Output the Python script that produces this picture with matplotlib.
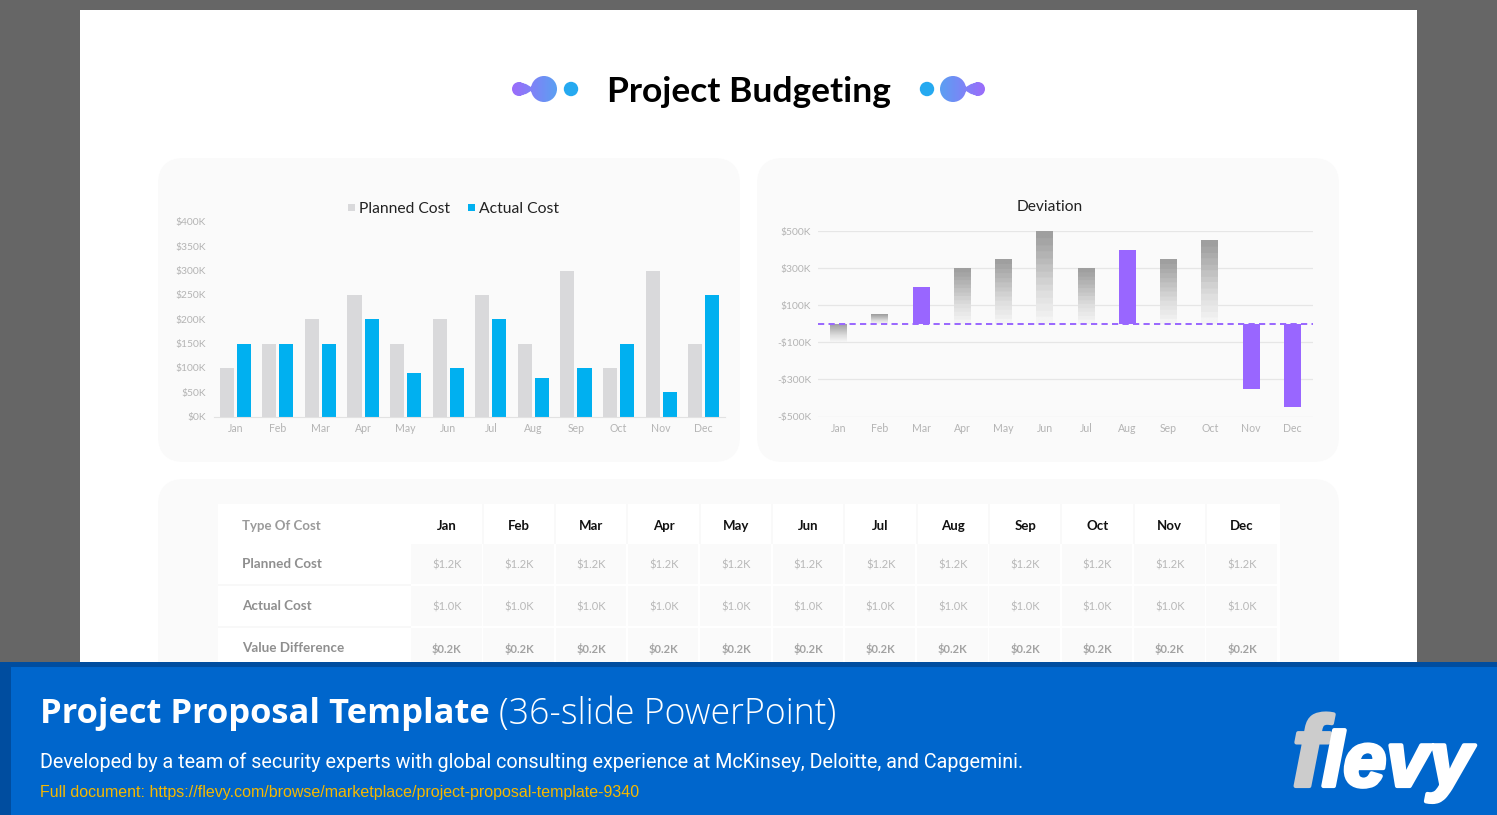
import matplotlib
matplotlib.use("Agg")
import matplotlib.pyplot as plt
import numpy as np
from matplotlib.patches import Rectangle, FancyBboxPatch, Circle
from matplotlib.path import Path
from matplotlib.colors import LinearSegmentedColormap
from matplotlib.ticker import FuncFormatter
import matplotlib.patheffects as pe

months = ["Jan", "Feb", "Mar", "Apr", "May", "Jun", "Jul", "Aug", "Sep", "Oct", "Nov", "Dec"]
planned_cost = [100, 150, 200, 250, 150, 200, 250, 150, 300, 100, 300, 150]
actual_cost = [150, 150, 150, 200, 90, 100, 200, 80, 100, 150, 50, 250]
deviation = [-100, 50, 200, 300, 350, 500, 300, 400, 350, 450, -350, -450]
highlighted = ["Mar", "Aug", "Nov", "Dec"]
budget_ticks = [0, 50, 100, 150, 200, 250, 300, 350, 400]
deviation_ticks = [-500, -300, -100, 100, 300, 500]
row_labels = ["Planned Cost", "Actual Cost", "Value Difference"]
row_values = ["$1.2K", "$1.0K", "$0.2K"]

W, H = 1497, 815
FONT = "Lato"
fig = plt.figure(figsize=(W / 100, H / 100), dpi=100, facecolor="#666666")
bg = fig.add_axes([0, 0, 1, 1])
bg.set_xlim(0, W)
bg.set_ylim(H, 0)
bg.axis("off")


def axes_px(x0, y0, x1, y1):
    return fig.add_axes([x0 / W, 1 - y1 / H, (x1 - x0) / W, (y1 - y0) / H], facecolor="none")


def fit(x, y, s, width, ax=bg, **kw):
    t = ax.text(x, y, s, fontsize=20, **kw)
    r = fig.canvas.get_renderer()
    for _ in range(3):
        t.set_fontsize(t.get_fontsize() * width / t.get_window_extent(r).width)
    return t


def rect(x0, y0, x1, y1, color, z=1):
    bg.add_patch(Rectangle((x0, y0), x1 - x0, y1 - y0, fc=color, ec="none", zorder=z))


def panel(x0, y0, x1, y1):
    bg.add_patch(FancyBboxPatch((x0 + 26, y0 + 26), x1 - x0 - 52, y1 - y0 - 52,
                                boxstyle="round,pad=26,rounding_size=26",
                                fc="#fafafa", ec="none", zorder=1))


# slide
rect(80, 10, 1417, 670, "#ffffff", 0)
panel(158, 158, 740, 462)
panel(757, 158, 1339, 462)
panel(158, 479, 1339, 720)

# title + ornaments
fit(749, 91.5, "Project Budgeting", 284, ha="center", va="center", family=FONT,
    weight="bold", color="black", zorder=3)
cmap_orn = LinearSegmentedColormap.from_list("o", ["#9d6bfb", "#5aa0f2"])


def ornament(cs, cb, dot):
    d = 1 if cb > cs else -1
    neck = Path([(cs, 82.5), (cs + d * 7, 84), (cs + d * 12, 87), (cb - d * 8, 81), (cb, 77),
                 (cb, 101), (cb - d * 8, 97), (cs + d * 12, 91), (cs + d * 7, 94), (cs, 95.5), (cs, 82.5)])
    if d < 0:
        neck = Path(neck.vertices[::-1])
    path = Path.make_compound_path(Path.circle((cs, 89), 7), Path.circle((cb, 89), 13), neck)
    lo, hi = min(cs - 8, cb - 14), max(cs + 8, cb + 14)
    grad = np.linspace(0, 1, 64).reshape(1, -1)
    if d < 0:
        grad = grad[:, ::-1]
    im = bg.imshow(grad, extent=(lo, hi, 103, 75), cmap=cmap_orn, aspect="auto", zorder=3)
    im.set_clip_path(path, bg.transData)
    bg.add_patch(Circle((dot, 89), 7.2, fc="#25a9f0", ec="none", zorder=3))


ornament(519, 544, 571)
ornament(978, 953, 927)
bg.set_xlim(0, W)
bg.set_ylim(H, 0)

# --- chart 1
TICK = "#b4b4b4"
ax1 = axes_px(214, 222, 725, 416.5)
x = np.arange(len(months))
ax1.bar(x - 0.2, planned_cost, 0.33, color="#d9d9db", label="Planned Cost")
ax1.bar(x + 0.2, actual_cost, 0.33, color="#00b0f0", label="Actual Cost")
ax1.set_xlim(-0.5, 11.5)
ax1.set_ylim(0, 400)
ax1.set_yticks(budget_ticks)
ax1.yaxis.set_major_formatter(FuncFormatter(lambda v, _: f"${v:.0f}K"))
ax1.set_xticks(x, months)
for s in ["top", "left", "right"]:
    ax1.spines[s].set_visible(False)
ax1.spines["bottom"].set_color("#e2e2e2")
ax1.tick_params(axis="x", length=0, labelsize=7.6, labelcolor=TICK, pad=5)
ax1.tick_params(axis="y", length=0, labelsize=7.4, labelcolor=TICK, pad=6)
for lab in ax1.get_xticklabels() + ax1.get_yticklabels():
    lab.set_family(FONT)
rect(348, 204, 355, 211, "#d9d9db", 3)
rect(468, 204, 475, 211, "#00b0f0", 3)
fit(359, 209, "Planned Cost", 91, ha="left", va="center", family=FONT, color="#222222", zorder=3)
fit(479, 209, "Actual Cost", 80, ha="left", va="center", family=FONT, color="#222222", zorder=3)

# --- chart 2
ax2 = axes_px(818, 231, 1313, 416.5)
ax2.set_axisbelow(True)
ax2.grid(axis="y", color="#e6e6e6", lw=0.9)
cmap_bar = LinearSegmentedColormap.from_list("g", ["#f4f4f4", "#dedede", "#bdbdbd", "#9f9f9f"], N=14)
bars = ax2.bar(x, deviation, 0.41, color=["#9966ff" if m in highlighted else "none" for m in months],
               zorder=2)
for m, b, v in zip(months, bars, deviation):
    if m in highlighted:
        continue
    im = ax2.imshow(np.linspace(1, 0, 64).reshape(-1, 1),
                    extent=(b.get_x(), b.get_x() + b.get_width(), min(0, v), max(0, v)),
                    cmap=cmap_bar, aspect="auto", zorder=2)
    im.set_clip_path(b)
ax2.axhline(0, color="#9966ff", lw=1.4, ls=(0, (3.2, 2.2)), zorder=3)
ax2.set_xlim(-0.5, 11.5)
ax2.set_ylim(-500, 500)
ax2.set_yticks(deviation_ticks)
ax2.yaxis.set_major_formatter(FuncFormatter(lambda v, _: f"${v:.0f}K" if v >= 0 else f"-${-v:.0f}K"))
ax2.set_xticks(x, months)
for s in ["top", "left", "right", "bottom"]:
    ax2.spines[s].set_visible(False)
ax2.tick_params(axis="x", length=0, labelsize=7.6, labelcolor=TICK, pad=4.5)
ax2.tick_params(axis="y", length=0, labelsize=7.4, labelcolor=TICK, pad=5)
for lab in ax2.get_xticklabels() + ax2.get_yticklabels():
    lab.set_family(FONT)
fit(1050, 207, "Deviation", 66, ha="center", va="center", family=FONT, color="#222222", zorder=3)

# --- table
rect(218, 504, 1280, 670, "#ffffff", 2)
col0, colw = 411, 72.3
row_y = [(544, 584), (586, 626), (628, 670)]
rect(218, 584, 411, 586, "#f8f8f8", 2)
rect(218, 626, 411, 628, "#f8f8f8", 2)
for i, m in enumerate(months):
    cx = col0 + colw * i + 35.8
    if i:
        rect(col0 + colw * i - 1.5, 504, col0 + colw * i + 0.5, 544, "#f9f9f9", 2)
    bg.text(cx, 525.5, m, ha="center", va="center", family=FONT, weight="bold", fontsize=9.5,
            color="#111111", zorder=3)
    for (y0, y1), val, r in zip(row_y, row_values, range(3)):
        rect(col0 + colw * i, y0, col0 + colw * i + 70.5, y1, "#fafafa", 2)
        bg.text(cx, (y0 + min(y1, 668)) / 2 + 1, val, ha="center", va="center",
                family=FONT, fontsize=8, weight="bold" if r == 2 else "normal",
                color="#a2a2a2" if r == 2 else "#b8b8b8", zorder=3)
bg.text(242, 525.5, "Type Of Cost", ha="left", va="center", family=FONT, weight="bold", fontsize=9.5,
        color="#9a9a9a", zorder=3)
for (y0, y1), lab in zip(row_y, row_labels):
    bg.text(242, (y0 + min(y1, 668)) / 2 + 0.5, lab, ha="left", va="center", family=FONT, weight="bold",
            fontsize=9.7, color="#8f8f8f", zorder=3)

# --- banner
rect(0, 662, W, 815, "#004d9f", 5)
rect(11, 667, W, 815, "#0066cc", 5)
fit(40, 714, "Project Proposal Template", 450, ha="left", va="center", family="Open Sans",
    weight="bold", color="white", zorder=6)
fit(499, 714, "(36-slide PowerPoint)", 336, ha="left", va="center", family="Open Sans",
    weight="light", color="white", zorder=6)
fit(40, 762, "Developed by a team of security experts with global consulting experience at McKinsey, Deloitte, and Capgemini.",
    983, ha="left", va="center", family="Roboto", color="white", zorder=6)
fit(40, 793, "Full document: https://flevy.com/browse/marketplace/project-proposal-template-9340", 598,
    ha="left", va="center", family="Liberation Sans", color="#f5b800", zorder=6)
bg.text(1292, 786, "f", ha="left", va="baseline", family="Liberation Sans", weight="bold",
        style="italic", color="#cccccc", zorder=6, fontsize=72,
        path_effects=[pe.withStroke(linewidth=3, foreground="#cccccc")])
fit(1322, 786, "levy", 150, ha="left", va="baseline", family="Liberation Sans", weight="bold",
    style="italic", color="white", zorder=6,
    path_effects=[pe.withStroke(linewidth=3, foreground="white")])

fig.savefig("out.png", dpi=100, facecolor=fig.get_facecolor())
